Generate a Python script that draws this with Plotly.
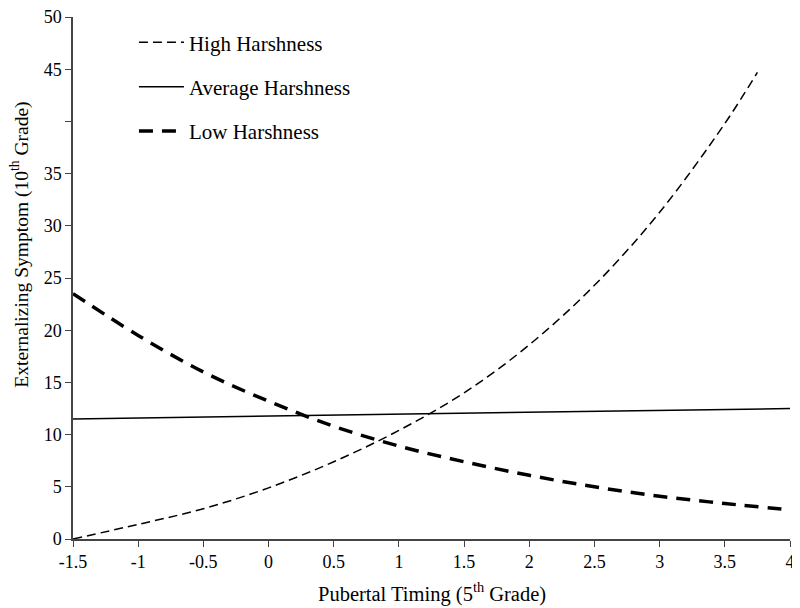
import plotly.graph_objects as go

x_vals = [-1.5, -1, -0.5, 0, 0.5, 1, 1.5, 2, 2.5, 3, 3.5, 3.75]
high = [0.0, 1.4, 2.9, 4.9, 7.4, 10.4, 14.0, 18.6, 24.3, 31.3, 39.8, 44.7]

x_avg = [-1.5, 4]
avg = [11.5, 12.5]

x_low = [-1.5, -1, -0.5, 0, 0.5, 1, 1.5, 2, 2.5, 3, 3.5, 4]
low = [23.5, 19.5, 16.0, 13.2, 10.8, 8.9, 7.4, 6.1, 5.0, 4.1, 3.4, 2.8]

x_ticks = [-1.5, -1, -0.5, 0, 0.5, 1, 1.5, 2, 2.5, 3, 3.5, 4]
x_tick_text = ["-1.5", "-1", "-0.5", "0", "0.5", "1", "1.5", "2", "2.5", "3", "3.5", "4"]
y_ticks = [0, 5, 10, 15, 20, 25, 30, 35, 40, 45, 50]
y_tick_text = ["0", "5", "10", "15", "20", "25", "30", "35", "", "45", "50"]

x_title = "Pubertal Timing (5<sup>th</sup> Grade)"
y_title = "Externalizing Symptom (10<sup>th</sup> Grade)"

FONT = "Liberation Serif, Times New Roman, serif"

fig = go.Figure()
fig.add_trace(go.Scatter(x=x_vals, y=high, mode="lines", name="High Harshness",
                         line=dict(color="black", width=1.5, dash="9px,5px", shape="spline"),
                         legendgroup="a"))
fig.add_trace(go.Scatter(x=x_avg, y=avg, mode="lines", name="Average Harshness",
                         line=dict(color="black", width=1.5), legendgroup="b"))
fig.add_trace(go.Scatter(x=x_low, y=low, mode="lines", name="Low Harshness",
                         line=dict(color="black", width=3.5, dash="14px,9px", shape="spline"),
                         legendgroup="c"))

# page body has an 8px default margin, so the figure is sized 792x600
fig.update_layout(
    width=792, height=600,
    margin=dict(l=65, r=10, t=9, b=69, autoexpand=False),
    paper_bgcolor="white", plot_bgcolor="white",
    font=dict(family=FONT, size=18, color="black"),
    showlegend=True,
    legend=dict(x=0.085, y=0.990, xanchor="left", yanchor="top",
                bgcolor="rgba(0,0,0,0)", tracegroupgap=14,
                font=dict(family=FONT, size=21), itemwidth=45),
    xaxis=dict(range=[-1.5, 4], tickvals=x_ticks, ticktext=x_tick_text,
               showgrid=False, zeroline=False, showline=True, linecolor="#444",
               linewidth=1.5, ticks="outside", ticklen=6, tickcolor="#444",
               automargin=False, ticklabeloverflow="allow",
               tickfont=dict(family=FONT, size=18)),
    yaxis=dict(range=[0, 50], tickvals=y_ticks, ticktext=y_tick_text,
               showgrid=False, zeroline=False, showline=True, linecolor="#444",
               linewidth=1.5, ticks="outside", ticklen=6, tickcolor="#444",
               automargin=False, ticklabeloverflow="allow",
               tickfont=dict(family=FONT, size=18)),
    annotations=[
        dict(text=x_title, xref="paper", yref="paper", x=0.5007, y=-0.1034,
             xanchor="center", yanchor="middle", showarrow=False,
             font=dict(family=FONT, size=20.5)),
        dict(text=y_title, xref="paper", yref="paper", x=-0.0745, y=0.563,
             xanchor="center", yanchor="middle", showarrow=False, textangle=-90,
             font=dict(family=FONT, size=19.5)),
    ],
)

fig.write_html("out.html")
